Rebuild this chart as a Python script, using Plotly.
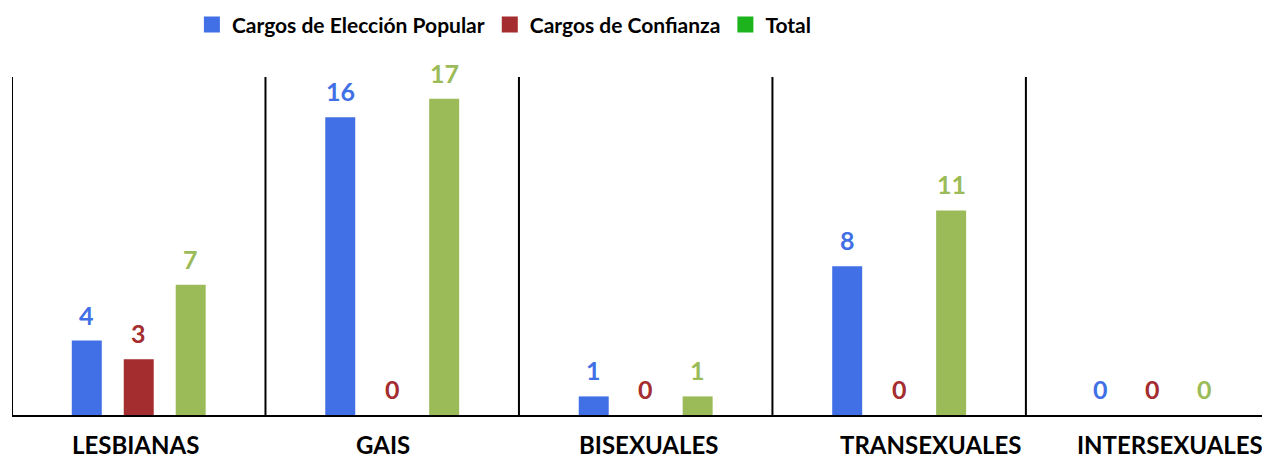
import plotly.graph_objects as go

# Cargos ocupados por personas LGBTI, por grupo

categories = ["LESBIANAS", "GAIS", "BISEXUALES", "TRANSEXUALES", "INTERSEXUALES"]
eleccion_popular = [4, 16, 1, 8, 0]
confianza = [3, 0, 0, 0, 0]
total = [7, 17, 1, 11, 0]

series_names = ["Cargos de Elección Popular", "Cargos de Confianza", "Total"]
bar_colors = ["#4170e6", "#a42d2f", "#9bbb59"]
legend_colors = ["#4170e6", "#a42d2f", "#1cb31c"]

# the category labels in the original are not exactly centred under their groups
label_shift_px = [-3, -9, 3, 32, 17]

FONT = "Lato"
BARGAP = 0.385
BARGROUPGAP = 0.423
X_RANGE = [-0.5, 4.463]
PLOT_W = 1258

fig = go.Figure()

all_series = [eleccion_popular, confianza, total]

for name, values, color in zip(series_names, all_series, bar_colors):
    fig.add_trace(
        go.Bar(
            x=categories,
            y=values,
            name=name,
            marker=dict(color=color, line=dict(width=0)),
            showlegend=False,
        )
    )

# legend entries (the legend uses its own square colours)
for name, color in zip(series_names, legend_colors):
    fig.add_trace(
        go.Scatter(
            x=[None],
            y=[None],
            mode="markers",
            name=name,
            marker=dict(symbol="square", size=18, color=color),
        )
    )

# value labels above each bar, placed a bit higher than plotly's outside text
px_per_unit = PLOT_W / (X_RANGE[1] - X_RANGE[0])
slot_px = (1 - BARGAP) / len(all_series) * px_per_unit
for k, (values, color) in enumerate(zip(all_series, bar_colors)):
    dx = (k - (len(all_series) - 1) / 2) * slot_px
    for cat, v in zip(categories, values):
        fig.add_annotation(
            x=cat,
            y=v,
            xref="x",
            yref="y",
            text=str(v),
            showarrow=False,
            xanchor="center",
            yanchor="bottom",
            xshift=dx,
            yshift=9,
            font=dict(family=FONT, size=25, color=color, weight="bold"),
        )

# separators between the groups
for i in range(len(categories)):
    fig.add_shape(
        type="line",
        xref="x",
        yref="paper",
        x0=i - 0.5,
        x1=i - 0.5,
        y0=0,
        y1=1,
        line=dict(color="black", width=2),
    )

# category labels under the axis
for cat, shift in zip(categories, label_shift_px):
    fig.add_annotation(
        x=cat,
        y=0,
        xref="x",
        yref="paper",
        text=cat,
        showarrow=False,
        xanchor="center",
        yanchor="top",
        xshift=shift,
        yshift=-13,
        font=dict(family=FONT, size=24, color="black", weight="bold"),
    )

# the page body has an 8px margin, so the figure is a bit smaller than the window
fig.update_layout(
    width=1262,
    height=447,
    margin=dict(l=4, r=0, t=69, b=40, autoexpand=False),
    paper_bgcolor="white",
    plot_bgcolor="white",
    barmode="group",
    bargap=BARGAP,
    bargroupgap=BARGROUPGAP,
    font=dict(family=FONT, color="black"),
    legend=dict(
        orientation="h",
        x=0.143,
        xanchor="left",
        y=1.154,
        yanchor="middle",
        font=dict(family=FONT, size=21, color="black", weight="bold"),
        itemwidth=30,
        tracegroupgap=0,
    ),
    xaxis=dict(
        type="category",
        range=X_RANGE,
        automargin=False,
        showline=True,
        linecolor="black",
        linewidth=2,
        showticklabels=False,
        showgrid=False,
        zeroline=False,
    ),
    yaxis=dict(
        range=[0, 18.17],
        visible=False,
        automargin=False,
        showgrid=False,
        zeroline=False,
    ),
)

fig.write_html("out.html")
